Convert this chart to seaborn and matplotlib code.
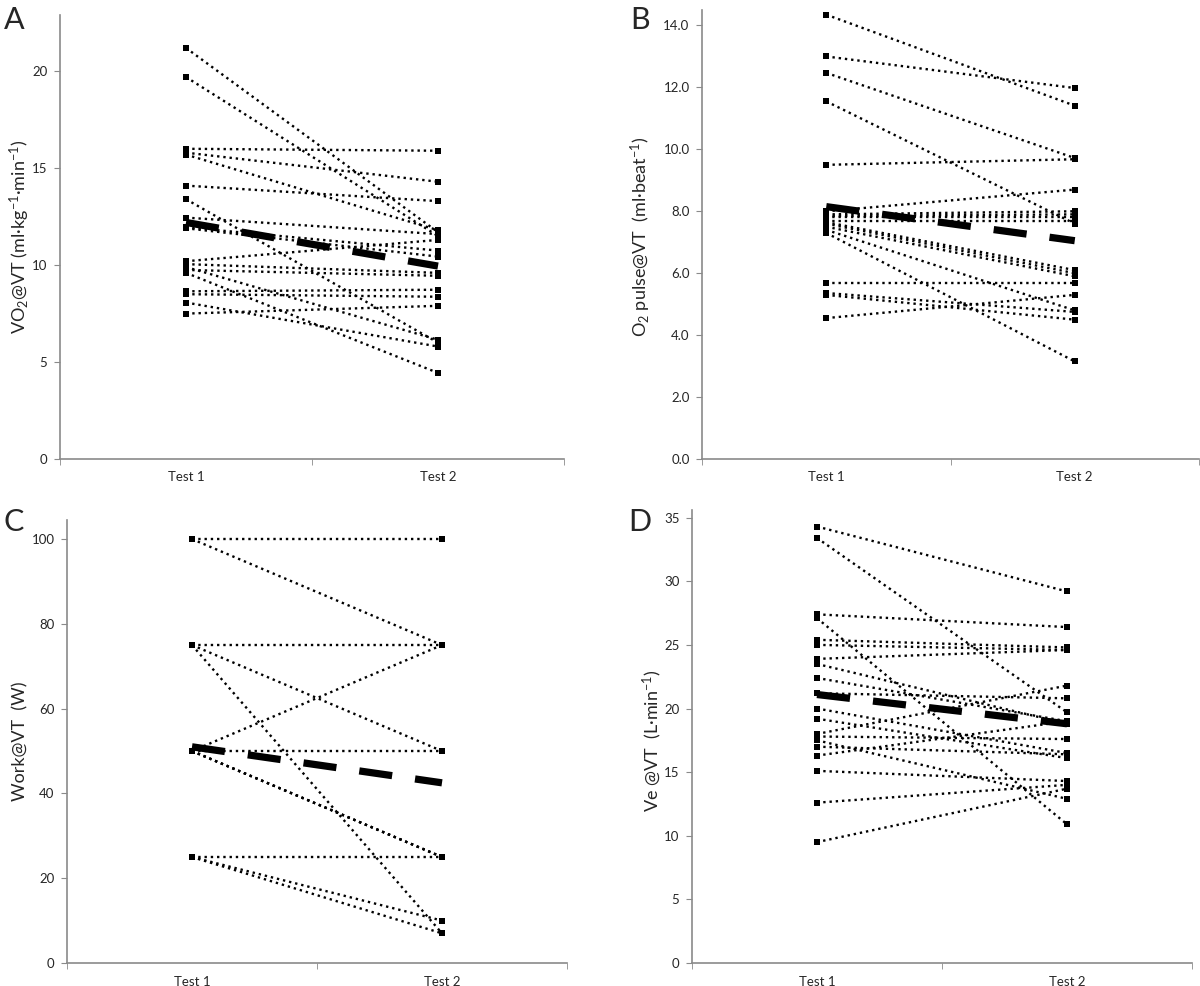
import numpy as np
import pandas as pd
import matplotlib
matplotlib.use("Agg")
import matplotlib.pyplot as plt
import seaborn as sns

tests = ["Test 1", "Test 2"]

# A: VO2 at VT (ml/kg/min)
vo2_test1 = [21.2, 19.7, 16.0, 15.8, 15.7, 14.1, 13.4, 12.45, 11.95, 11.9,
             10.2, 10.05, 9.9, 9.75, 9.6, 8.65, 8.5, 8.07, 7.5]
vo2_test2 = [11.7, 11.5, 15.9, 14.3, 11.8, 13.3, 6.0, 11.6, 10.75, 10.44,
             11.3, 9.6, 6.15, 9.45, 4.44, 8.73, 8.37, 5.8, 7.9]
vo2_mean = [12.2, 9.95]

# B: O2 pulse at VT (ml/beat)
o2p_test1 = [14.35, 13.0, 12.47, 11.55, 9.5, 8.0, 7.9, 7.85, 7.8, 7.7,
             7.65, 7.6, 7.5, 7.4, 7.3, 5.69, 5.36, 5.3, 4.55]
o2p_test2 = [11.41, 11.98, 9.72, 7.6, 9.68, 8.7, 8.0, 7.9, 7.8, 7.7,
             6.1, 6.0, 5.9, 4.8, 3.15, 5.69, 4.75, 4.5, 5.3]
o2p_mean = [8.15, 7.05]

# C: work at VT (W)
work_test1 = [100, 100, 75, 75, 75, 50, 50, 50, 50, 50, 25, 25, 25]
work_test2 = [100, 75, 75, 50, 7, 75, 50, 25, 25, 25, 25, 10, 7]
work_mean = [51, 42.5]

# D: Ve at VT (L/min)
ve_test1 = [34.3, 33.4, 27.4, 27.1, 25.4, 25.0, 23.9, 23.5, 22.4, 21.2,
            20.0, 19.2, 18.0, 17.8, 17.5, 17.0, 16.3, 15.1, 12.6, 9.5]
ve_test2 = [29.2, 19.7, 26.4, 10.9, 24.8, 24.6, 24.6, 18.8, 19.0, 20.8,
            16.5, 16.1, 21.8, 17.6, 12.9, 16.4, 19.0, 14.3, 14.0, 13.7]
ve_mean = [21.1, 18.8]

sns.set_style("white")
plt.rcParams['font.family'] = ['Lato', 'DejaVu Sans']
plt.rcParams['mathtext.fontset'] = 'custom'
plt.rcParams['mathtext.rm'] = 'Lato'
plt.rcParams['mathtext.it'] = 'Lato'
plt.rcParams['mathtext.default'] = 'regular'

gray = '#8a8a8a'


def long_df(t1, t2):
    n = len(t1)
    return pd.DataFrame({'subject': list(range(n)) * 2,
                         'pos': [1] * n + [2] * n,
                         'value': list(t1) + list(t2)})


def draw_panel(rect, t1, t2, mean, ytop, yticks, fmt):
    ax = fig.add_axes(rect)
    df = long_df(t1, t2)
    sns.lineplot(data=df, x='pos', y='value', units='subject', estimator=None,
                 color='black', linestyle=':', linewidth=1.7, marker='s',
                 markersize=5, markeredgewidth=0, legend=False, ax=ax)
    sns.lineplot(x=[1, 2], y=mean, color='black', linewidth=5.2,
                 linestyle=(0, (4.6, 3.2)), ax=ax)
    ax.set_xlim(0.5, 2.5)
    ax.set_ylim(0, ytop)
    ax.set_xticks([1, 2])
    ax.set_xticklabels(tests)
    ax.set_xticks([0.5, 1.5, 2.5], minor=True)
    ax.set_yticks(yticks)
    ax.set_yticklabels([fmt.format(v) for v in yticks])
    ax.tick_params(axis='x', which='major', length=0, pad=9, labelsize=9.5)
    ax.tick_params(axis='x', which='minor', length=4, color=gray, direction='out', bottom=True)
    ax.tick_params(axis='y', length=4, color=gray, direction='out', left=True, pad=5, labelsize=9.5)
    for s in ['top', 'right']:
        ax.spines[s].set_visible(False)
    for s in ['left', 'bottom']:
        ax.spines[s].set_color(gray)
        ax.spines[s].set_linewidth(1.2)
    ax.set_xlabel('')
    ax.set_ylabel('')
    return ax


fig = plt.figure(figsize=(12, 9.86), dpi=100)
W, H = 1200, 986


def rect(left, right, top, bottom):
    return [left / W, 1 - bottom / H, (right - left) / W, (bottom - top) / H]


draw_panel(rect(60, 564, 15, 459), vo2_test1, vo2_test2, vo2_mean,
           22.9, [0, 5, 10, 15, 20], '{:.0f}')
draw_panel(rect(702, 1199, 10, 459), o2p_test1, o2p_test2, o2p_mean,
           14.5, np.arange(0, 14.1, 2.0), '{:.1f}')
draw_panel(rect(67, 567, 520, 963), work_test1, work_test2, work_mean,
           104.5, [0, 20, 40, 60, 80, 100], '{:.0f}')
draw_panel(rect(692, 1192, 510, 963), ve_test1, ve_test2, ve_mean,
           35.6, [0, 5, 10, 15, 20, 25, 30, 35], '{:.0f}')

for letter, x, y in [('A', 14, 20), ('B', 640, 20), ('C', 14, 522), ('D', 640, 522)]:
    fig.text(x / W, 1 - y / H, letter, fontsize=22, ha='center', va='center')

ylabels = [
    ('VO$_2$@VT (ml·kg$^{-1}$·min$^{-1}$)', 20, 237),
    ('O$_2$ pulse@VT  (ml·beat$^{-1}$)', 641, 237),
    ('Work@VT  (W)', 20, 741),
    ('Ve @VT  (L·min$^{-1}$)', 652, 741),
]
for text, x, y in ylabels:
    fig.text(x / W, 1 - y / H, text, rotation=90, fontsize=13, ha='center', va='center')

fig.savefig('out.png', dpi=100)
